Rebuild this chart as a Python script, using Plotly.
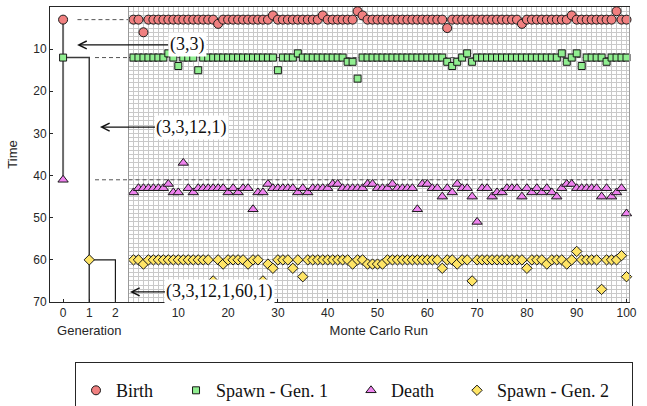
import plotly.graph_objects as go

# ---- Monte Carlo results: event times per run -------------------------------
runs = list(range(1, 101))

birth = [3, 3, 6, 3, 3, 3, 3, 3, 3, 3,
         3, 3, 3, 3, 3, 3, 3, 4, 3, 3,
         3, 3, 3, 3, 3, 3, 3, 3, 2, 3,
         3, 3, 3, 3, 3, 3, 3, 3, 2, 3,
         3, 3, 3, 3, 3, 1, 2, 3, 3, 3,
         3, 3, 3, 3, 3, 3, 3, 3, 3, 3,
         3, 3, 3, 5, 3, 3, 3, 3, 3, 3,
         3, 3, 3, 3, 3, 3, 3, 3, 4, 3,
         3, 3, 3, 3, 3, 3, 3, 3, 2, 3,
         3, 3, 3, 3, 3, 3, 3, 1, 3, 3]

spawn1 = [12, 12, 12, 12, 12, 12, 12, 11, 12, 14,
          12, 12, 12, 15, 12, 12, 12, 12, 12, 12,
          12, 12, 12, 12, 12, 12, 12, 12, 12, 15,
          12, 12, 12, 11, 12, 12, 12, 12, 12, 12,
          12, 12, 12, 13, 13, 17, 12, 12, 12, 12,
          12, 12, 12, 12, 12, 12, 12, 12, 12, 12,
          12, 12, 12, 13, 14, 13, 12, 11, 13, 12,
          12, 12, 12, 12, 12, 12, 12, 12, 12, 12,
          12, 12, 12, 12, 12, 12, 11, 13, 12, 11,
          14, 12, 12, 12, 12, 13, 12, 12, 12, 12]

death = [44, 43, 43, 43, 43, 43, 43, 42, 44, 44,
         37, 43, 44, 43, 43, 43, 43, 43, 43, 44,
         43, 44, 43, 43, 48, 44, 44, 42, 43, 43,
         43, 43, 43, 44, 43, 44, 43, 43, 43, 43,
         42, 42, 43, 43, 43, 43, 43, 42, 42, 43,
         43, 43, 42, 43, 43, 43, 43, 48, 42, 42,
         43, 43, 45, 43, 44, 42, 43, 43, 45, 51,
         43, 43, 45, 44, 44, 43, 43, 43, 45, 43,
         44, 43, 44, 43, 44, 45, 43, 42, 42, 43,
         43, 43, 43, 43, 45, 43, 45, 44, 43, 49]

spawn2 = [60, 60, 61, 60, 60, 60, 60, 60, 60, 60,
          60, 60, 60, 60, 60, 60, 65, 60, 61, 60,
          60, 60, 60, 61, 60, 60, 65, 61, 62, 60,
          60, 60, 62, 60, 64, 60, 60, 60, 60, 60,
          60, 60, 60, 60, 61, 60, 60, 61, 61, 61,
          61, 60, 60, 60, 60, 60, 60, 60, 60, 60,
          60, 60, 62, 60, 60, 61, 60, 60, 65, 60,
          60, 60, 60, 60, 60, 60, 60, 60, 60, 62,
          60, 60, 60, 61, 60, 60, 60, 61, 60, 58,
          60, 60, 60, 60, 67, 60, 60, 60, 59, 64]

# ---- reference lineage (generation panel) -----------------------------------
gen0_birth = 3
gen0_spawn = 12
gen0_death = 41
gen1_spawn = 60
t_end = 70

gen_ticks = [0, 1, 2]
run_ticks = [10, 20, 30, 40, 50, 60, 70, 80, 90, 100]
time_ticks = [10, 20, 30, 40, 50, 60, 70]

labels = {"birth": "Birth", "spawn1": "Spawn - Gen. 1",
          "death": "Death", "spawn2": "Spawn - Gen. 2"}

# ---- styles ------------------------------------------------------------------
C_BIRTH = "#f08080"
C_SPAWN1 = "#90ee90"
C_DEATH = "#ee82ee"
C_SPAWN2 = "#ffe566"
EDGE = dict(color="#1a1a1a", width=1)
AXIS_C = "#262626"
SANS = "Liberation Sans, Arial, sans-serif"
SERIF = "Liberation Serif, Times New Roman, serif"

styles = {
    "birth": dict(symbol="circle", size=9, color=C_BIRTH, line=EDGE),
    "spawn1": dict(symbol="square", size=7, color=C_SPAWN1, line=EDGE),
    "death": dict(symbol="triangle-up", size=9, color=C_DEATH, line=EDGE),
    "spawn2": dict(symbol="diamond", size=8, color=C_SPAWN2, line=EDGE),
}

fig = go.Figure()

# dashed reference levels spanning both panels
dash = dict(color="#555555", width=1, dash="4px,3px")
for level, x_start in [(gen0_birth, 0.55), (gen0_spawn, 1.22), (gen0_death, 1.22)]:
    fig.add_trace(go.Scatter(x=[x_start, 2.5], y=[level, level], mode="lines",
                             line=dash, xaxis="x", yaxis="y",
                             showlegend=False, hoverinfo="skip"))
    fig.add_trace(go.Scatter(x=[0, runs[-1]], y=[level, level], mode="lines",
                             line=dash, xaxis="x2", yaxis="y2",
                             showlegend=False, hoverinfo="skip"))

# lineage tree
fig.add_trace(go.Scatter(x=[0, 0], y=[gen0_birth, gen0_death], mode="lines",
                         line=dict(color="#6a6a6a", width=2),
                         showlegend=False, hoverinfo="skip"))
fig.add_trace(go.Scatter(x=[0, 1, 1], y=[gen0_spawn, gen0_spawn, t_end], mode="lines",
                         line=dict(color="#3a3a3a", width=1.5),
                         showlegend=False, hoverinfo="skip"))
fig.add_trace(go.Scatter(x=[1, 2, 2], y=[gen1_spawn, gen1_spawn, t_end], mode="lines",
                         line=dict(color="#1a1a1a", width=1.2),
                         showlegend=False, hoverinfo="skip"))

# lineage events
for key, gx, gy in [("birth", 0, gen0_birth), ("spawn1", 0, gen0_spawn),
                    ("death", 0, gen0_death), ("spawn2", 1, gen1_spawn)]:
    fig.add_trace(go.Scatter(x=[gx], y=[gy], mode="markers", marker=styles[key],
                             xaxis="x", yaxis="y", showlegend=False, cliponaxis=False))

# Monte Carlo events
pad = "\u00a0" * 4
for key, vals in [("birth", birth), ("spawn1", spawn1),
                  ("death", death), ("spawn2", spawn2)]:
    fig.add_trace(go.Scatter(x=runs, y=vals, mode="markers", marker=styles[key],
                             name=labels[key] + pad, xaxis="x2", yaxis="y2",
                             cliponaxis=False))

# ---- layout ------------------------------------------------------------------
W, H = 647, 406
ml, mr, mt, mb = 50, 18, 7, 104
split = (128.5 - ml) / (W - ml - mr)
grid_c = "#c9c9c9"
tickfont = dict(family=SANS, size=12, color=AXIS_C)
titlefont = dict(family=SANS, size=13, color=AXIS_C)

fig.update_layout(
    width=W, height=H,
    margin=dict(l=ml, r=mr, t=mt, b=mb, autoexpand=False),
    paper_bgcolor="white", plot_bgcolor="white",
    showlegend=True,
    xaxis=dict(domain=[0, split], range=[-0.5, 2.5], anchor="y",
               tickvals=gen_ticks, ticks="inside", ticklen=3, tickcolor=AXIS_C,
               showline=True, linecolor=AXIS_C, linewidth=1, mirror=True,
               showgrid=False, zeroline=False, tickfont=tickfont,
               title=dict(text="Generation", font=titlefont, standoff=6)),
    xaxis2=dict(domain=[split, 1], range=[0, 100.5], anchor="y2",
                tickvals=run_ticks, ticks="inside", ticklen=3, tickcolor=AXIS_C,
                showline=True, linecolor=AXIS_C, linewidth=1, mirror=True,
                showgrid=True, gridcolor=grid_c, gridwidth=1,
                minor=dict(dtick=1, tick0=0, showgrid=True, gridcolor=grid_c, gridwidth=1),
                zeroline=False, tickfont=tickfont,
                title=dict(text="Monte Carlo Run", font=titlefont, standoff=6)),
    yaxis=dict(domain=[0, 1], range=[t_end, 0], anchor="x",
               tickvals=time_ticks, ticks="inside", ticklen=3, tickcolor=AXIS_C,
               showline=True, linecolor=AXIS_C, linewidth=1, mirror=False,
               showgrid=False, zeroline=False, tickfont=tickfont,
               title=dict(text="Time", font=titlefont, standoff=12)),
    yaxis2=dict(domain=[0, 1], range=[t_end, 0], anchor="x2", matches="y",
                tickvals=time_ticks, showticklabels=False, ticks="",
                showline=True, linecolor="#9a9a9a", linewidth=1, mirror=True,
                showgrid=True, gridcolor=grid_c, gridwidth=1,
                minor=dict(dtick=1, tick0=0, showgrid=True, gridcolor=grid_c, gridwidth=1),
                zeroline=False),
    legend=dict(orientation="h", xanchor="right", x=(633 - ml) / (W - ml - mr),
                yanchor="top", y=-(362 - (H - mb)) / (H - mt - mb),
                bgcolor="white", bordercolor=AXIS_C, borderwidth=1,
                title=dict(text="\u00a0", side="top", font=dict(family=SERIF, size=7)),
                font=dict(family=SERIF, size=18, color="#111111")),
)

# annotations describing the lineage
ann_font = dict(family=SERIF, size=18, color="#111111")
arrow = dict(showarrow=True, arrowhead=5, arrowsize=1.3, arrowwidth=1.2,
             arrowcolor="#111111", bgcolor="white", borderpad=1, font=ann_font,
             ay=0, xanchor="center", yanchor="middle")
fig.add_annotation(text="(3,3)", x=0.535, y=9.0, xref="x", yref="y", ax=110, **arrow)
fig.add_annotation(text="(3,3,12,1)", x=1.41, y=28.5, xref="x", yref="y", ax=92, **arrow)
fig.add_annotation(text="(3,3,12,1,60,1)", x=0.3, y=67.6, xref="x2", yref="y", ax=90, **arrow)

fig.write_html("out.html")
